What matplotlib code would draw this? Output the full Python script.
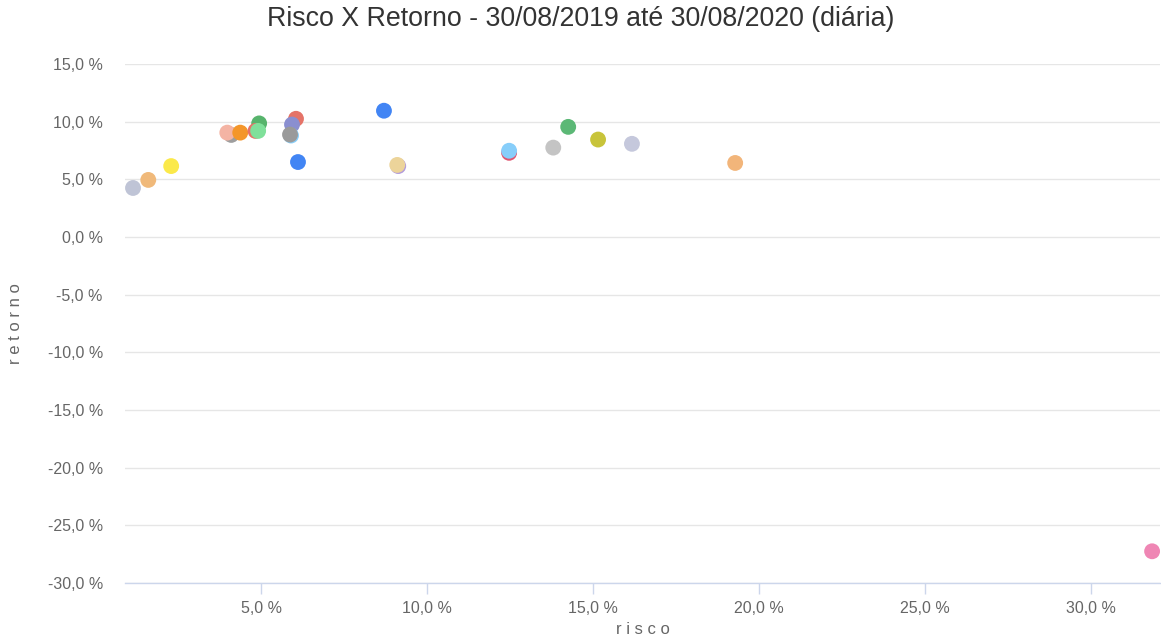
import matplotlib.pyplot as plt
from matplotlib.ticker import FuncFormatter, MultipleLocator

plt.rcParams['font.family'] = ['Liberation Sans', 'DejaVu Sans']

# risco (%) e retorno (%) de cada ativo
risco = [1.14, 1.60, 2.29, 4.10, 3.98, 4.37, 4.94, 4.83, 4.91, 6.05, 5.93,
         5.90, 5.87, 6.11, 8.70, 9.13, 9.10, 12.47, 12.47, 13.80, 14.25,
         15.15, 16.17, 19.28, 31.84]
retorno = [4.25, 4.95, 6.15, 8.85, 9.05, 9.05, 9.85, 9.2, 9.2, 10.25, 9.75,
           8.8, 8.88, 6.5, 10.95, 6.15, 6.25, 7.3, 7.48, 7.75, 9.55,
           8.45, 8.08, 6.42, -27.25]
cores = ['#bfc4d6', '#f0b97a', '#fbe94a', '#9e9e9e', '#f4b4a4', '#f4962a',
         '#57b46c', '#e57368', '#7fe09a', '#e57368', '#8a8fd0',
         '#87cefa', '#9a9a9a', '#4285f4', '#4285f4', '#b39ddb', '#ecd49a',
         '#e05570', '#87cefa', '#c4c4c4', '#5cb876',
         '#c8c43a', '#c5c8dc', '#f2b57a', '#ef86b4']

fig = plt.figure(figsize=(11.61, 6.42), dpi=100)
ax = fig.add_axes([0.1077, 0.0919, 0.8915, 0.8084])

ax.scatter(risco, retorno, s=130, c=cores, edgecolors='none', zorder=3)

ax.set_xlim(0.9, 32.08)
ax.set_ylim(-30, 15)
ax.xaxis.set_major_locator(MultipleLocator(5))
ax.yaxis.set_major_locator(MultipleLocator(5))
fmt = FuncFormatter(lambda v, p: f'{v:.1f}'.replace('.', ',') + ' %')
ax.xaxis.set_major_formatter(fmt)
ax.yaxis.set_major_formatter(fmt)

ax.grid(axis='y', color='#e6e6e6', linewidth=1, zorder=0)
for s in ['top', 'right', 'left']:
    ax.spines[s].set_visible(False)
ax.spines['bottom'].set_color('#ccd6eb')
ax.spines['bottom'].set_linewidth(1)
ax.tick_params(axis='x', colors='#ccd6eb', length=8, width=1, labelcolor='#666666',
               labelsize=11.5, pad=5)
ax.tick_params(axis='y', length=0, labelcolor='#666666', labelsize=11.5, pad=16)

ax.set_xlabel('r i s c o', color='#666666', fontsize=12, labelpad=4)
ax.set_ylabel('r e t o r n o', color='#666666', fontsize=12, labelpad=18)
fig.suptitle('Risco X Retorno - 30/08/2019 até 30/08/2020 (diária)',
             x=0.5, y=0.99, fontsize=19.3, color='#333333')

fig.savefig('out.png', dpi=100)
